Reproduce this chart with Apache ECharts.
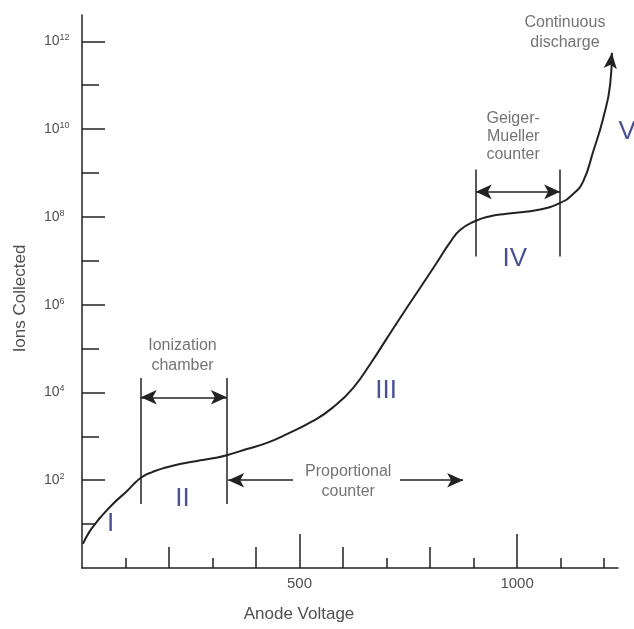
<!DOCTYPE html>
<html>
<head>
<meta charset="utf-8">
<script src="https://cdn.jsdelivr.net/npm/echarts@6/dist/echarts.min.js"></script>
<style>html,body{margin:0;padding:0;background:#fff}#c{width:634px;height:629px}</style>
</head>
<body>
<div id="c"></div>
<script>
// ---- data (voltage in V, ions collected as log10 exponent) ----
const voltage = [2, 18, 34, 41, 71, 103, 125, 142, 160, 186, 225, 264, 301, 333, 379, 425, 471, 531, 577, 623, 666, 700, 738, 777, 815, 846, 869, 903, 936, 976, 1053, 1099, 1129, 1152, 1175, 1198, 1214, 1218];
const logIons = [0.55, 0.84, 1.05, 1.14, 1.46, 1.75, 1.97, 2.10, 2.18, 2.27, 2.37, 2.44, 2.50, 2.57, 2.71, 2.85, 3.05, 3.35, 3.66, 4.10, 4.70, 5.22, 5.80, 6.38, 6.95, 7.42, 7.70, 7.90, 8.01, 8.07, 8.17, 8.32, 8.52, 8.81, 9.49, 10.25, 11.02, 11.74];

const yMajorExp = [2, 4, 6, 8, 10, 12];
const yMinorExp = [3, 5, 7, 9, 11];
const yTinyExp = [1];
const xMajor = [500, 1000];
const xMedium = [200, 400, 600, 800];
const xMinor = [100, 300, 700, 900, 1100, 1200];

const regionNames = ['I', 'II', 'III', 'IV', 'V'];
const regionV = [66, 231, 699, 995, 1230];
const regionExp = [1.0, 1.57, 4.03, 7.04, 9.93];

const noteText = ['Ionization\nchamber', 'Proportional\ncounter', 'Geiger-\nMueller\ncounter', 'Continuous\ndischarge'];
const noteV = [231, 612, 991, 1110];
const noteExp = [4.85, 1.98, 9.82, 12.2];

const boundaryV = [135, 333, 905, 1099];
const boundaryLow = [1.46, 1.46, 7.10, 7.10];
const boundaryHigh = [4.33, 4.33, 9.08, 9.08];

// double arrows: [fromV, toV, exp]
const dblArrowFrom = [135, 905];
const dblArrowTo = [333, 1099];
const dblArrowExp = [3.89, 8.57];
// single arrows (head at "to")
const arrowFrom = [485, 731];
const arrowTo = [336, 876];
const arrowExp = [2.0, 2.0];

const FONT = '"Liberation Sans", Arial, Helvetica, sans-serif';
const AXIS_COLOR = '#222';
const TEXT_COLOR = '#505050';
const ROMAN_COLOR = '#1c2575';

const chart = echarts.init(document.getElementById('c'), null, {renderer: 'canvas'});

function xAxisDef(ticks, len, showLine, labels) {
  return {
    type: 'value', min: 0, max: 1232, position: 'bottom',
    splitLine: {show: false},
    axisLine: {show: showLine, onZero: false, lineStyle: {color: AXIS_COLOR, width: 1.5}},
    axisTick: {show: true, inside: true, length: len, customValues: ticks, lineStyle: {color: AXIS_COLOR, width: 1.5}},
    axisLabel: labels ? {show: true, customValues: labels, formatter: v => String(v), color: TEXT_COLOR, fontSize: 15, fontFamily: FONT, margin: 8} : {show: false},
    name: showLine ? 'Anode Voltage' : '',
    nameLocation: 'middle', nameGap: 38,
    nameTextStyle: {color: TEXT_COLOR, fontSize: 17, fontFamily: FONT, padding: [0, 102, 0, 0]}
  };
}
function yAxisDef(ticks, len, showLine, labels) {
  return {
    type: 'value', min: 0, max: 12.6, position: 'left',
    splitLine: {show: false},
    axisLine: {show: showLine, onZero: false, lineStyle: {color: AXIS_COLOR, width: 1.5}},
    axisTick: {show: true, inside: true, length: len, customValues: ticks, lineStyle: {color: AXIS_COLOR, width: 1.5}},
    axisLabel: labels ? {
      show: true, customValues: labels, align: 'left', margin: 38,
      formatter: v => '{b|10}{s|' + v + '}',
      rich: {
        b: {fontSize: 14, color: TEXT_COLOR, fontFamily: FONT, lineHeight: 16},
        s: {fontSize: 9, color: TEXT_COLOR, fontFamily: FONT, lineHeight: 6, verticalAlign: 'top'}
      }
    } : {show: false},
    name: showLine ? 'Ions Collected' : '',
    nameLocation: 'middle', nameGap: 53, nameRotate: 90,
    nameTextStyle: {color: TEXT_COLOR, fontSize: 17, fontFamily: FONT, padding: [0, 14, 0, 0]}
  };
}

const curveData = voltage.map((v, i) => {
  if (i === voltage.length - 1) {
    return {value: [v, logIons[i]], symbol: 'arrow', symbolSize: [10, 16], symbolRotate: -6,
      itemStyle: {color: AXIS_COLOR}};
  }
  return {value: [v, logIons[i]], symbol: 'none'};
});

const markLines = [];
boundaryV.forEach((v, i) => {
  markLines.push([{coord: [v, boundaryLow[i]], symbol: 'none'}, {coord: [v, boundaryHigh[i]], symbol: 'none'}]);
});
dblArrowFrom.forEach((v, i) => {
  markLines.push([{coord: [v, dblArrowExp[i]], symbol: 'arrow'}, {coord: [dblArrowTo[i], dblArrowExp[i]], symbol: 'arrow'}]);
});
arrowFrom.forEach((v, i) => {
  markLines.push([{coord: [v, arrowExp[i]], symbol: 'none'}, {coord: [arrowTo[i], arrowExp[i]], symbol: 'arrow'}]);
});

chart.setOption({
  animation: false,
  backgroundColor: '#fff',
  grid: {left: 82, right: 16, top: 15, bottom: 61, containLabel: false},
  xAxis: [
    xAxisDef(xMajor, 34, true, xMajor),
    xAxisDef(xMedium, 21, false, null),
    xAxisDef(xMinor, 10, false, null)
  ],
  yAxis: [
    yAxisDef(yMajorExp, 23, true, yMajorExp),
    yAxisDef(yMinorExp, 17, false, null),
    yAxisDef(yTinyExp, 14, false, null)
  ],
  series: [
    {
      type: 'line', xAxisIndex: 0, yAxisIndex: 0,
      data: curveData, smooth: 0.5, showSymbol: true, showAllSymbol: true,
      lineStyle: {color: AXIS_COLOR, width: 2}, silent: true, z: 3
    },
    {
      type: 'scatter', xAxisIndex: 0, yAxisIndex: 0, symbolSize: 0, silent: true,
      data: regionNames.map((n, i) => ({name: n, value: [regionV[i], regionExp[i]],
        label: i === 4 ? {offset: [10, 0]} : {}})),
      label: {show: true, position: 'inside', formatter: p => p.name,
        color: ROMAN_COLOR, fontSize: 26, fontFamily: FONT},
      markLine: {
        silent: true, symbolSize: [11, 16], label: {show: false},
        lineStyle: {color: AXIS_COLOR, width: 1.5, type: 'solid'},
        emphasis: {disabled: true},
        data: markLines
      }
    },
    {
      type: 'scatter', xAxisIndex: 0, yAxisIndex: 0, symbolSize: 0, silent: true,
      data: noteText.map((t, i) => ({name: t, value: [noteV[i], noteExp[i]],
        label: i === 2 ? {lineHeight: 18} : {}})),
      label: {show: true, position: 'inside', formatter: p => p.name, align: 'center',
        color: TEXT_COLOR, fontSize: 16, lineHeight: 20, fontFamily: FONT}
    }
  ]
});
</script>
</body>
</html>
